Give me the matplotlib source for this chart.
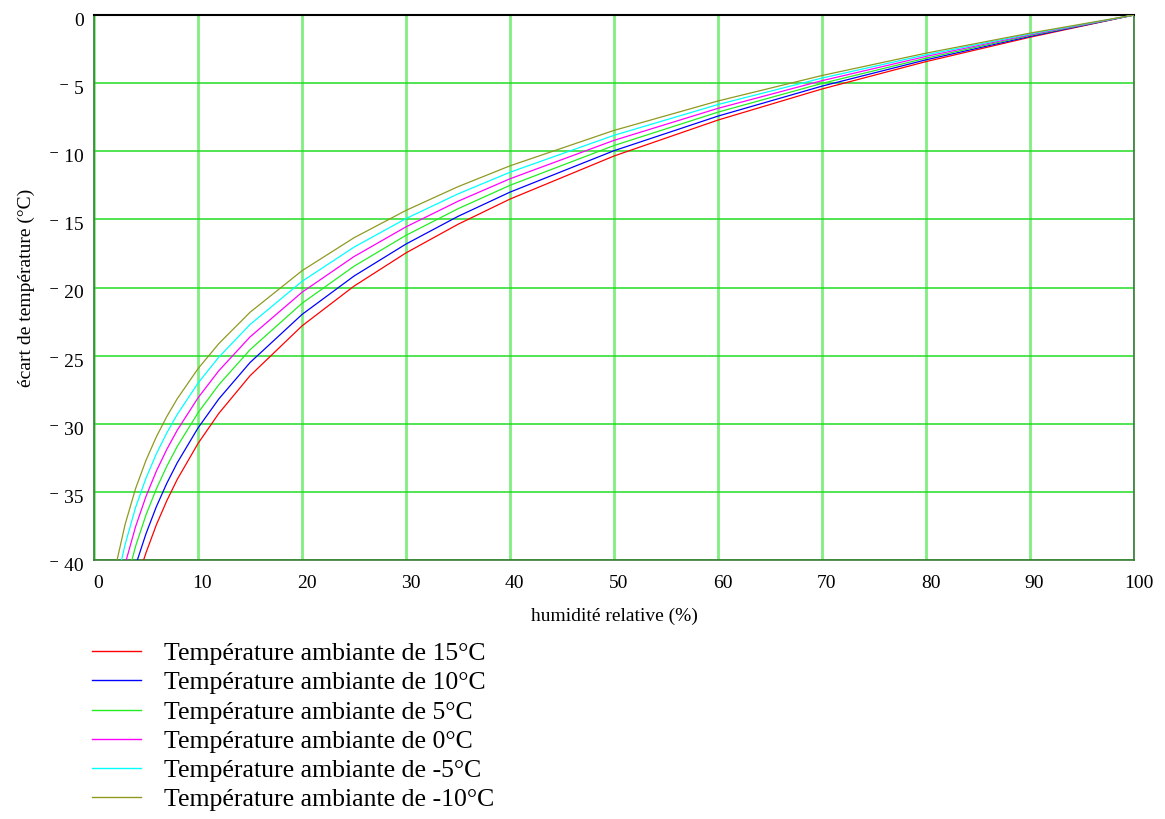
import numpy as np
import matplotlib.pyplot as plt
import matplotlib.transforms as mtransforms
from matplotlib.lines import Line2D

plt.rcParams['font.family'] = ['Liberation Serif', 'DejaVu Serif']

# humidité relative (%) commune aux courbes
humidite = [2, 3, 4, 5, 6, 7, 8, 10, 12, 15, 20, 25, 30, 35, 40, 50, 60, 70, 80, 90, 100]
nan = np.nan

# écart de température (nan = hors cadre, sous -40)
ecart_15 = [nan, nan, nan, -39.47, -37.41, -35.65, -34.09, -31.45, -29.24, -26.48, -22.82,
            -19.90, -17.46, -15.36, -13.51, -10.35, -7.71, -5.43, -3.42, -1.63, 0]
ecart_10 = [nan, nan, nan, -38.07, -36.08, -34.37, -32.87, -30.31, -28.18, -25.51, -21.98,
            -19.16, -16.81, -14.78, -13.00, -9.96, -7.42, -5.22, -3.29, -1.57, 0]
ecart_5 = [nan, nan, -38.99, -36.69, -34.77, -33.12, -31.67, -29.20, -27.14, -24.57, -21.16,
           -18.44, -16.17, -14.22, -12.50, -9.58, -7.13, -5.02, -3.17, -1.50, 0]
ecart_0 = [nan, nan, -37.55, -35.33, -33.47, -31.88, -30.48, -28.10, -26.11, -23.63, -20.35,
           -17.73, -15.55, -13.67, -12.02, -9.20, -6.85, -4.82, -3.04, -1.45, 0]
ecart_m5 = [nan, -38.84, -36.14, -33.99, -32.20, -30.67, -29.32, -27.02, -25.11, -22.72, -19.55,
            -17.04, -14.94, -13.13, -11.54, -8.83, -6.57, -4.63, -2.92, -1.39, 0]
ecart_m10 = [nan, -37.36, -34.75, -32.68, -30.95, -29.47, -28.17, -25.96, -24.12, -21.82, -18.77,
             -16.35, -14.34, -12.60, -11.07, -8.47, -6.31, -4.44, -2.80, -1.33, 0]

# humidité où chaque courbe sort par le bas (-40)
debut = [4.77, 4.17, 3.65, 3.1, 2.65, 2.22]

series = [ecart_15, ecart_10, ecart_5, ecart_0, ecart_m5, ecart_m10]
etiquettes = ['Température ambiante de 15°C', 'Température ambiante de 10°C',
              'Température ambiante de 5°C', 'Température ambiante de 0°C',
              'Température ambiante de -5°C', 'Température ambiante de -10°C']
couleurs = ['#ff0000', '#0000ff', '#22ee22', '#ff00ff', '#00ffff', '#8f9a20']

xticks = list(range(0, 101, 10))
yticks = list(range(0, -41, -5))

fig = plt.figure(figsize=(11.65, 8.19), dpi=100)
ax = fig.add_axes([94/1165, 1 - 560/819, 1040/1165, 545/819])

# grille verte
for xv in xticks:
    ax.axvline(xv, color='#80ee80', lw=2, zorder=1)
for yv in yticks:
    ax.axhline(yv, color='#22dd22', lw=1.1, zorder=1)

poignees = []
for vals, x0, c, lab in zip(series, debut, couleurs, etiquettes):
    v = np.array(vals, dtype=float)
    h = np.array(humidite, dtype=float)
    ok = ~np.isnan(v)
    xs = np.concatenate([[x0], h[ok]])
    ys = np.concatenate([[-40], v[ok]])
    ax.plot(xs, ys, color=c, lw=0.9, zorder=3)
    poignees.append(Line2D([], [], color=c, lw=1.0))

ax.set_xlim(0, 100)
ax.set_ylim(-40, 0)
ax.set_xticks(xticks)
ax.set_xticklabels([str(v) for v in xticks], fontsize=14)
ax.set_yticks(yticks)
ax.set_yticklabels(['0'] + ['\u207b %d' % -v for v in yticks[1:]], fontsize=14)
ax.tick_params(length=0)
ax.tick_params(axis='y', pad=7.5)
ax.tick_params(axis='x', pad=11)

# petits décalages des étiquettes comme dans l'original
dx = mtransforms.ScaledTranslation(4.5/100, 0, fig.dpi_scale_trans)
dy = mtransforms.ScaledTranslation(0, -4.5/100, fig.dpi_scale_trans)
for t in ax.get_xticklabels():
    t.set_transform(t.get_transform() + dx)
for t in ax.get_yticklabels():
    t.set_transform(t.get_transform() + dy)

for cote in ['left', 'bottom', 'right']:
    ax.spines[cote].set_color('#3a7a3a')
    ax.spines[cote].set_linewidth(1.2)
ax.spines['top'].set_color('black')
ax.spines['top'].set_linewidth(1.5)

ax.set_xlabel('humidité relative (%)', fontsize=14, labelpad=11)
ax.set_ylabel('écart de température (°C)', fontsize=14, labelpad=10)

fig.legend(poignees, etiquettes, loc='upper left', bbox_to_anchor=(82/1165, 1 - 632/819),
           frameon=False, fontsize=18.5, handlelength=1.9, handletextpad=0.9,
           labelspacing=0.24, borderaxespad=0)

fig.savefig('out.png', dpi=100)
